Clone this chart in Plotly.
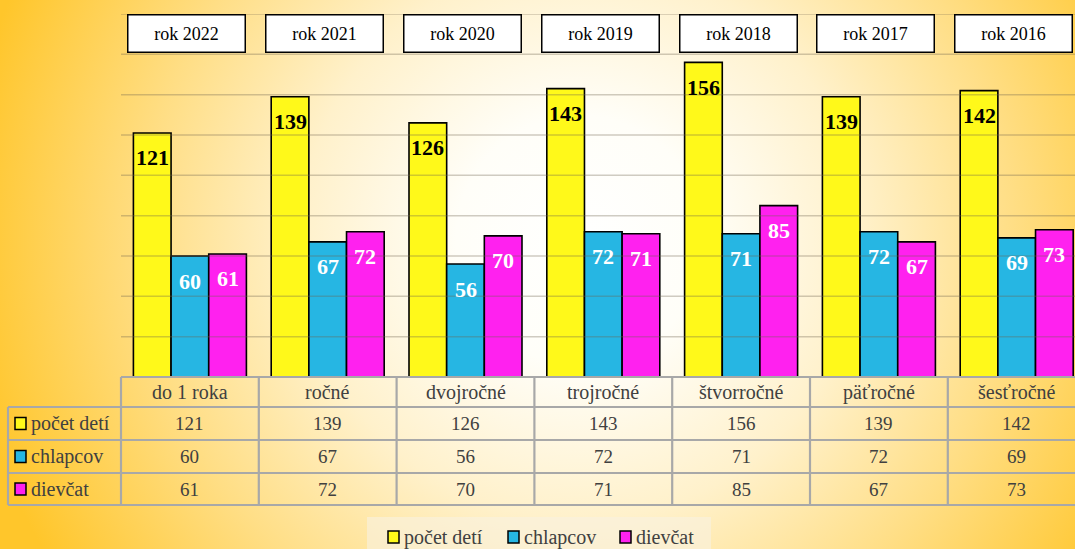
import base64
import plotly.graph_objects as go

# ---------------- data ----------------
categories = ["do 1 roka", "ročné", "dvojročné", "trojročné", "štvorročné", "päťročné", "šesťročné"]
years = ["rok 2022", "rok 2021", "rok 2020", "rok 2019", "rok 2018", "rok 2017", "rok 2016"]
pocet_deti = [121, 139, 126, 143, 156, 139, 142]
chlapcov = [60, 67, 56, 72, 71, 72, 69]
dievcat = [61, 72, 70, 71, 85, 67, 73]
series_names = ["počet detí", "chlapcov", "dievčat"]
y_ticks = [20, 40, 60, 80, 100, 120, 140, 160, 180]

series = [pocet_deti, chlapcov, dievcat]
colors = ["#FFF91A", "#26B6E3", "#FF21EF"]
label_colors = ["black", "white", "white"]

# ---------------- geometry ----------------
W, H = 1075, 549
L, R, T, B = 121, 0, 14, 172
PW, PH = W - L - R, H - T - B
CAT_PX = 137.8
x_range = [-0.5, -0.5 + PW / CAT_PX]
y_range = [0, 180]
BARGAP = 0.18
FONT = "Liberation Serif"
GRAY_TXT = "#404040"
TBL_LINE = "#A8A8A8"
TXT_SIZE = 20
NUM_SIZE = 19


def pxx(px):
    return (px - L) / PW


def pxy(py):
    return (H - B - py) / PH


def cat_left_px(i):
    return L + i * CAT_PX


# ---------------- background (radial gradient) ----------------
svg = f'''<svg xmlns="http://www.w3.org/2000/svg" width="{W}" height="{H}" viewBox="0 0 {W} {H}">
<defs><radialGradient id="g" gradientUnits="userSpaceOnUse" cx="580" cy="240" r="620">
<stop offset="0" stop-color="#FFFFFF"/>
<stop offset="0.2" stop-color="#FFFEF8"/>
<stop offset="0.45" stop-color="#FFF1CB"/>
<stop offset="0.7" stop-color="#FFDE85"/>
<stop offset="1" stop-color="#FFC62B"/>
</radialGradient></defs>
<rect width="{W}" height="{H}" fill="url(#g)"/></svg>'''
svg_uri = "data:image/svg+xml;base64," + base64.b64encode(svg.encode("utf-8")).decode("ascii")

fig = go.Figure()

for k, (name, vals) in enumerate(zip(series_names, series)):
    fig.add_trace(go.Bar(
        x=categories, y=vals, name=name,
        marker=dict(color=colors[k], line=dict(color="black", width=1.6)),
        hoverinfo="x+y+name",
    ))

shapes = []
annotations = []

# gridlines above bars (faint)
for t in y_ticks:
    shapes.append(dict(type="line", xref="paper", yref="y", x0=0, x1=1, y0=t, y1=t,
                       line=dict(color="rgba(110,100,80,0.33)", width=1.5), layer="above"))

# bar value labels
barw = (1 - BARGAP) / 3
for k, vals in enumerate(series):
    for i, v in enumerate(vals):
        annotations.append(dict(
            x=i + (k - 1) * barw, y=v, xref="x", yref="y", yshift=-25,
            text=f"<b>{v}</b>", showarrow=False, yanchor="middle",
            font=dict(family=FONT, size=22, color=label_colors[k])))

# year boxes
for i, yr in enumerate(years):
    annotations.append(dict(
        x=i, y=y_range[1], xref="x", yref="y", xshift=-3, yanchor="top",
        text=yr, showarrow=False, bgcolor="white", bordercolor="black",
        borderwidth=1.5, borderpad=2, width=112, height=32,
        font=dict(family=FONT, size=18, color="black")))

# ---------------- data table ----------------
row_y = [377, 407, 440, 473, 505]
shapes.append(dict(type="line", xref="paper", yref="paper", x0=pxx(L), x1=pxx(W + 20),
                   y0=pxy(row_y[0]), y1=pxy(row_y[0]), line=dict(color=TBL_LINE, width=2.2)))
for ry in row_y[1:]:
    shapes.append(dict(type="line", xref="paper", yref="paper", x0=pxx(8), x1=pxx(W + 20),
                       y0=pxy(ry), y1=pxy(ry), line=dict(color=TBL_LINE, width=2.2)))
shapes.append(dict(type="line", xref="paper", yref="paper", x0=pxx(8), x1=pxx(8),
                   y0=pxy(row_y[1]), y1=pxy(row_y[-1]), line=dict(color=TBL_LINE, width=2.2)))
for i in range(len(categories)):
    xl = cat_left_px(i)
    shapes.append(dict(type="line", xref="paper", yref="paper", x0=pxx(xl), x1=pxx(xl),
                       y0=pxy(row_y[0]), y1=pxy(row_y[-1]), line=dict(color=TBL_LINE, width=2.2)))

for i, c in enumerate(categories):
    cx = cat_left_px(i) + CAT_PX / 2
    annotations.append(dict(x=pxx(cx), y=pxy((row_y[0] + row_y[1]) / 2), xref="paper", yref="paper",
                            text=c, showarrow=False, xanchor="center", yanchor="middle",
                            font=dict(family=FONT, size=TXT_SIZE, color=GRAY_TXT)))
for k, (name, vals) in enumerate(zip(series_names, series)):
    cy = (row_y[k + 1] + row_y[k + 2]) / 2
    shapes.append(dict(type="rect", xref="paper", yref="paper",
                       x0=pxx(15), x1=pxx(26), y0=pxy(cy - 6), y1=pxy(cy + 6),
                       fillcolor=colors[k], line=dict(color="black", width=1.5)))
    annotations.append(dict(x=pxx(29), y=pxy(cy), xref="paper", yref="paper", text=name,
                            showarrow=False, xanchor="left", yanchor="middle",
                            font=dict(family=FONT, size=TXT_SIZE, color=GRAY_TXT)))
    for i, v in enumerate(vals):
        cx = cat_left_px(i) + CAT_PX / 2
        annotations.append(dict(x=pxx(cx), y=pxy(cy), xref="paper", yref="paper", text=str(v),
                                showarrow=False, xanchor="center", yanchor="middle",
                                font=dict(family=FONT, size=NUM_SIZE, color=GRAY_TXT)))

# ---------------- legend (bottom) ----------------
shapes.append(dict(type="rect", xref="paper", yref="paper",
                   x0=pxx(367), x1=pxx(711), y0=pxy(517), y1=pxy(H + 5),
                   fillcolor="rgba(248,242,225,0.6)", line=dict(width=0), layer="below"))
leg_sq = [388, 508, 620]
leg_cy = 537
for k, name in enumerate(series_names):
    shapes.append(dict(type="rect", xref="paper", yref="paper",
                       x0=pxx(leg_sq[k]), x1=pxx(leg_sq[k] + 11), y0=pxy(leg_cy - 6), y1=pxy(leg_cy + 6),
                       fillcolor=colors[k], line=dict(color="black", width=1.5)))
    annotations.append(dict(x=pxx(leg_sq[k] + 14), y=pxy(leg_cy), xref="paper", yref="paper",
                            text=name, showarrow=False, xanchor="left", yanchor="middle",
                            font=dict(family=FONT, size=TXT_SIZE, color=GRAY_TXT)))

fig.update_layout(
    width=W, height=H,
    margin=dict(l=L, r=R, t=T, b=B, pad=0),
    paper_bgcolor="#FFE9A0",
    plot_bgcolor="rgba(0,0,0,0)",
    barmode="group", bargap=BARGAP, bargroupgap=0,
    showlegend=False,
    xaxis=dict(range=x_range, showticklabels=False, showgrid=False, zeroline=False,
               showline=False, ticks=""),
    yaxis=dict(range=y_range, showticklabels=False, showgrid=False, zeroline=False,
               showline=False, ticks=""),
    shapes=shapes,
    annotations=annotations,
    images=[dict(source=svg_uri, xref="paper", yref="paper",
                 x=-L / PW, y=1 + T / PH, sizex=W / PW, sizey=H / PH,
                 xanchor="left", yanchor="top", sizing="stretch", layer="below")],
    font=dict(family=FONT),
)

fig.write_html(
    "out.html",
    config={"displayModeBar": False},
    post_script="document.body.style.margin='0';document.body.style.overflow='hidden';",
)
